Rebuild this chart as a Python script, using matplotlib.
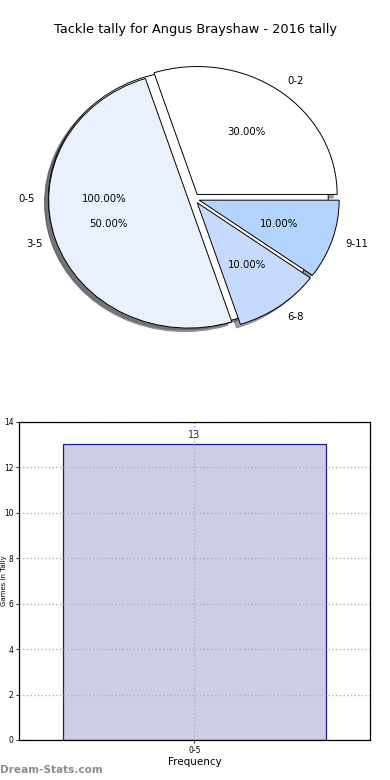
import matplotlib
matplotlib.use("Agg")
import matplotlib.pyplot as plt

# Pie data: overall range and breakdown
all_labels = ["0-5"]
all_values = [1]
range_labels = ["0-2", "3-5", "6-8", "9-11"]
range_values = [3, 5, 1, 1]
pie_colors = ["#ffffff", "#e9f0fe", "#c6d9fe", "#b2d4fe"]

# Bar data
bar_labels = ["0-5"]
bar_values = [13]

fig = plt.figure(figsize=(3.9, 7.8), dpi=100)

# Pie chart
ax1 = fig.add_axes([0.0487, 0.5404, 0.897, 0.410])
wedge_props = {"linewidth": 0.7, "edgecolor": "black"}
text_props = {"fontsize": 7.3}
ax1.pie(all_values, labels=all_labels, colors=pie_colors[:1], autopct="%.2f%%",
        explode=[0.04], shadow=True, startangle=0, counterclock=True,
        wedgeprops=wedge_props, textprops=text_props)
ax1.pie(range_values, labels=range_labels, colors=pie_colors, autopct="%.2f%%",
        explode=[0.04] * len(range_values), shadow=True, startangle=0,
        wedgeprops=wedge_props, textprops=text_props)
ax1.set_aspect("auto")
ax1.set_xlim(-1.25, 1.25)
ax1.set_ylim(-1.25, 1.25)
ax1.axis("off")

fig.text(0.5, 1 - 29 / 780, "Tackle tally for Angus Brayshaw - 2016 tally",
         ha="center", va="center", fontsize=9.3)

# Bar chart
ax2 = fig.add_axes([0.0487, 0.0513, 0.9, 0.408])
x = list(range(len(bar_labels)))
bars = ax2.bar(x, bar_values, width=0.75, color="#cdcde6", edgecolor="#1c1c94",
               linewidth=0.9, zorder=1)
for rect, val in zip(bars, bar_values):
    ax2.text(rect.get_x() + rect.get_width() / 2, val + 0.2, str(val),
             ha="center", va="bottom", fontsize=7, color="#1c1c94")
ax2.set_xlim(-0.5, len(bar_labels) - 0.5)
ax2.set_ylim(0, 14)
ax2.set_yticks(range(0, 15, 2))
ax2.set_xticks(x)
ax2.set_xticklabels(bar_labels)
ax2.tick_params(axis="both", labelsize=5.5, length=2.5, width=0.6, pad=1.5)
ax2.grid(True, linestyle=":", color="#b0b0b0", linewidth=1)
ax2.set_axisbelow(False)
for sp in ax2.spines.values():
    sp.set_linewidth(0.9)
    sp.set_zorder(5)
ax2.set_xlabel("Frequency", fontsize=7.5, labelpad=2)
ax2.set_ylabel("Games in Tally", fontsize=5)
ax2.yaxis.set_label_coords(-0.033, 0.5)

fig.text(0.0, 1 - 770 / 780, "Dream-Stats.com", ha="left", va="center",
         fontsize=7.6, color="#8c8c8c", fontweight="bold")

fig.savefig("out.png", dpi=100)
